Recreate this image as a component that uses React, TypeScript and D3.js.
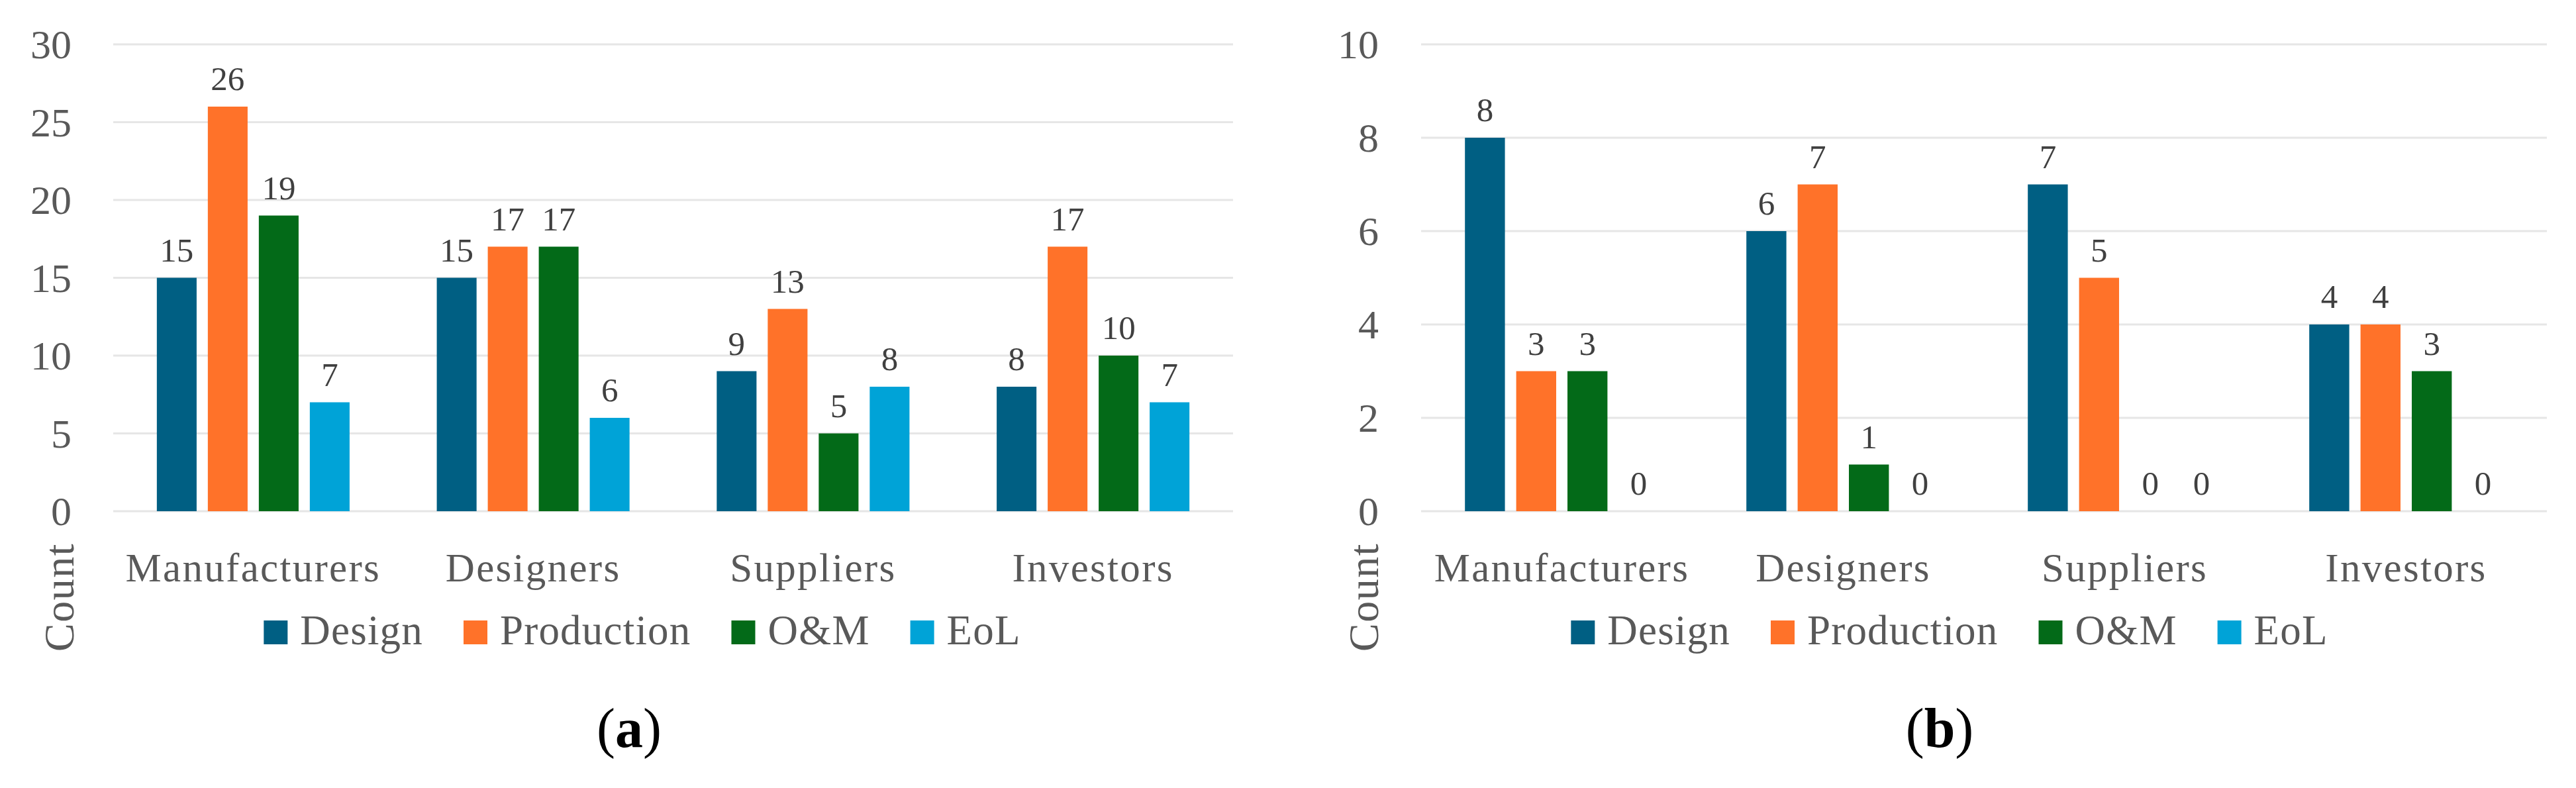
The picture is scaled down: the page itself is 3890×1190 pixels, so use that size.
import React, { useEffect } from 'react';
import * as d3 from 'd3';

// ---------- data ----------
const categories = ['Manufacturers', 'Designers', 'Suppliers', 'Investors'];
const seriesNames = ['Design', 'Production', 'O&M', 'EoL'];
const seriesColors = ['#005F83', '#FF7229', '#036A18', '#00A3D7'];

const panelADesign = [15, 15, 9, 8];
const panelAProduction = [26, 17, 13, 17];
const panelAOM = [19, 17, 5, 10];
const panelAEoL = [7, 6, 8, 7];

const panelBDesign = [8, 6, 7, 4];
const panelBProduction = [3, 7, 5, 4];
const panelBOM = [3, 1, 0, 3];
const panelBEoL = [0, 0, 0, 0];

const ticksA = [0, 5, 10, 15, 20, 25, 30];
const ticksB = [0, 2, 4, 6, 8, 10];

const yAxisTitle = 'Count';

// ---------- layout ----------
const W = 3890;
const H = 1190;
const FONT = "'Liberation Serif', 'Times New Roman', serif";
const TEXT_GRAY = '#595959';
const LABEL_GRAY = '#404040';
const GRID = '#E6E6E6';

const Y_TOP = 67;
const Y_BOTTOM = 772;

type Panel = {
  key: string;
  series: number[][];
  ticks: number[];
  x0: number;
  x1: number;
  tickRight: number;
  countX: number;
  countY: number;
  legendCenter: number;
  captionX: number;
};

const panels: Panel[] = [
  {
    key: 'a',
    series: [panelADesign, panelAProduction, panelAOM, panelAEoL],
    ticks: ticksA,
    x0: 171,
    x1: 1862,
    tickRight: 108,
    countX: 111,
    countY: 902,
    legendCenter: 970,
    captionX: 950,
  },
  {
    key: 'b',
    series: [panelBDesign, panelBProduction, panelBOM, panelBEoL],
    ticks: ticksB,
    x0: 2146,
    x1: 3846,
    tickRight: 2082,
    countX: 2081,
    countY: 902,
    legendCenter: 2944,
    captionX: 2929,
  },
];

let measureCtx: CanvasRenderingContext2D | null = null;
function measure(text: string, size: number, ls: number): number {
  if (!measureCtx) {
    const c = document.createElement('canvas');
    measureCtx = c.getContext('2d');
  }
  if (!measureCtx) return text.length * size * 0.5;
  measureCtx.font = `${size}px 'Liberation Serif'`;
  return measureCtx.measureText(text).width + ls * text.length;
}

const LEG_SIZE = 63;
const LEG_LS = 1.2;
const SW = 36;
const SW_GAP = 19;
const ITEM_GAP = 61;

function PanelChart({ p }: { p: Panel }) {
  const yMax = p.ticks[p.ticks.length - 1];
  const y = d3.scaleLinear().domain([0, yMax]).range([Y_BOTTOM, Y_TOP]);
  const x = d3.scaleBand<string>().domain(categories).range([p.x0, p.x1]).paddingInner(0).paddingOuter(0);
  const xi = d3
    .scaleBand<string>()
    .domain(seriesNames)
    .range([0, x.bandwidth()])
    .paddingInner(0.22)
    .paddingOuter(0.855);

  // legend layout
  const widths = seriesNames.map((s) => measure(s, LEG_SIZE, LEG_LS));
  const total =
    widths.reduce((a, b) => a + b, 0) + seriesNames.length * (SW + SW_GAP) + (seriesNames.length - 1) * ITEM_GAP;
  let cursor = p.legendCenter - total / 2;
  const legendItems = seriesNames.map((s, i) => {
    const item = { name: s, color: seriesColors[i], sx: cursor, tx: cursor + SW + SW_GAP };
    cursor += SW + SW_GAP + widths[i] + ITEM_GAP;
    return item;
  });

  return (
    <g>
      {/* gridlines */}
      {p.ticks.map((t) => (
        <line key={`g${t}`} x1={p.x0} x2={p.x1} y1={y(t)} y2={y(t)} stroke={GRID} strokeWidth={3} />
      ))}
      {/* tick labels */}
      {p.ticks.map((t) => (
        <text
          key={`t${t}`}
          x={p.tickRight}
          y={y(t) + 21}
          textAnchor="end"
          fontFamily={FONT}
          fontSize={62}
          fill={TEXT_GRAY}
        >
          {t}
        </text>
      ))}
      {/* bars */}
      {categories.map((c, ci) => (
        <g key={c}>
          {seriesNames.map((s, si) => {
            const v = p.series[si][ci];
            const bx = (x(c) ?? 0) + (xi(s) ?? 0);
            return (
              <g key={s}>
                {v > 0 && (
                  <rect x={bx} y={y(v)} width={xi.bandwidth()} height={y(0) - y(v)} fill={seriesColors[si]} />
                )}
                <text
                  x={bx + xi.bandwidth() / 2}
                  y={y(v) - 25}
                  textAnchor="middle"
                  fontFamily={FONT}
                  fontSize={51}
                  fill={LABEL_GRAY}
                >
                  {v}
                </text>
              </g>
            );
          })}
          <text
            x={(x(c) ?? 0) + x.bandwidth() / 2}
            y={878}
            textAnchor="middle"
            fontFamily={FONT}
            fontSize={61}
            letterSpacing={2.3}
            fill={TEXT_GRAY}
          >
            {c}
          </text>
        </g>
      ))}
      {/* y axis title */}
      <text
        transform={`translate(${p.countX},${p.countY}) rotate(-90)`}
        textAnchor="middle"
        fontFamily={FONT}
        fontSize={64}
        letterSpacing={1.5}
        fill={TEXT_GRAY}
      >
        {yAxisTitle}
      </text>
      {/* legend */}
      {legendItems.map((it) => (
        <g key={it.name}>
          <rect x={it.sx} y={937} width={SW} height={SW} fill={it.color} />
          <text
            x={it.tx}
            y={972.5}
            fontFamily={FONT}
            fontSize={LEG_SIZE}
            letterSpacing={LEG_LS}
            fill={TEXT_GRAY}
          >
            {it.name}
          </text>
        </g>
      ))}
      {/* caption */}
      <text x={p.captionX} y={1128} textAnchor="middle" fontFamily={FONT} fontSize={84} fill="#000">
        (<tspan fontWeight="bold">{p.key}</tspan>)
      </text>
    </g>
  );
}

export default function App() {
  useEffect(() => {
    document.body.style.margin = '0';
  }, []);
  return (
    <svg width={W} height={H} viewBox={`0 0 ${W} ${H}`} style={{ display: 'block', background: '#fff' }}>
      <rect x={0} y={0} width={W} height={H} fill="#fff" />
      {panels.map((p) => (
        <PanelChart key={p.key} p={p} />
      ))}
    </svg>
  );
}
